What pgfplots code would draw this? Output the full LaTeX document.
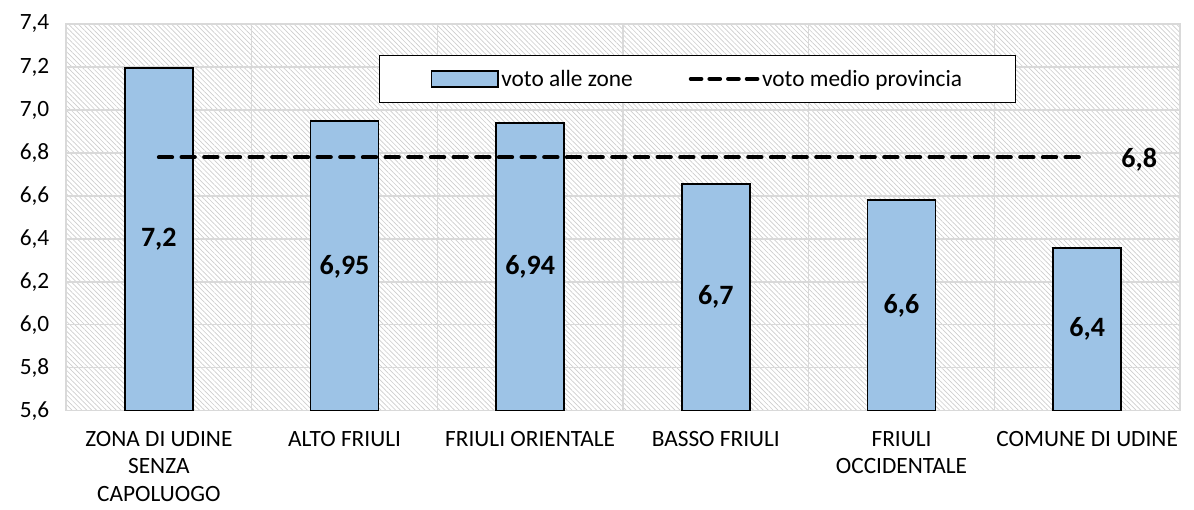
\documentclass[border=0pt]{standalone}
\usepackage{fontspec}
\setmainfont{Carlito}
\usepackage{pgfplots}
\pgfplotsset{compat=1.18}
\usetikzlibrary{patterns.meta}
\definecolor{barblue}{HTML}{9DC3E6}
\definecolor{gridc}{HTML}{D9D9D9}
\definecolor{hatchc}{HTML}{CDCDCD}
\begin{document}
\begin{tikzpicture}
\begin{axis}[
  scale only axis, width=835.5pt, height=290pt,
  xmin=-0.5, xmax=5.5, ymin=5.6, ymax=7.4,
  ytick={5.6,5.8,6.0,6.2,6.4,6.6,6.8,7.0,7.2,7.4},
  xtick={0,1,2,3,4,5},
  xticklabels={{ZONA DI UDINE\\SENZA\\CAPOLUOGO},{ALTO FRIULI},{FRIULI ORIENTALE},{BASSO FRIULI},{FRIULI\\OCCIDENTALE},{COMUNE DI UDINE}},
  minor xtick={-0.5,0.5,1.5,2.5,3.5,4.5,5.5},
  xminorgrids=true, ymajorgrids=true, xmajorgrids=false,
  major tick length=0pt, minor tick length=0pt,
  grid style={gridc, line width=1.1pt},
  minor grid style={gridc, line width=1.1pt},
  axis line style={gridc, line width=1.1pt},
  axis background/.style={pattern={Lines[angle=-45,distance=2.6pt,line width=0.5pt]}, pattern color=hatchc},
  /pgf/number format/.cd, use comma, fixed, fixed zerofill, precision=1, assume math mode=true,
  /pgfplots/.cd,
  yticklabel style={font=\fontsize{17.5}{21}\selectfont, xshift=-9pt},
  xticklabel style={font=\fontsize{17.5}{20.5}\selectfont, align=center, yshift=-12pt},
  legend style={at={(rel axis cs:0.567,0.858)}, anchor=center, draw=black, line width=0.8pt,
    font=\fontsize{17.5}{21}\selectfont, inner xsep=38pt, inner ysep=9pt,
    /tikz/every even column/.append style={column sep=40pt}},
  legend columns=2,
  legend cell align=left,
]
\addplot[ybar, bar width=51pt, fill=barblue, draw=black, line width=1.1pt,
  legend image code/.code={\draw[fill=barblue, draw=black, line width=1.1pt] (0pt,-6pt) rectangle (50pt,6pt);}]
  coordinates {(0,7.195) (1,6.949) (2,6.940) (3,6.656) (4,6.580) (5,6.358)};
\addlegendentry{voto alle zone}
\addplot[black, line width=3pt, dash pattern=on 10pt off 7pt, line cap=round,
  legend image code/.code={\draw[black, line width=3pt, dash pattern=on 8pt off 6pt, line cap=round] (2pt,0pt) -- (52pt,0pt);}]
  coordinates {(0,6.78) (5,6.78)};
\addlegendentry{voto medio provincia}
\addplot[draw=none, forget plot, nodes near coords, point meta=explicit symbolic,
  nodes near coords style={font=\bfseries\fontsize{21}{25}\selectfont, anchor=center}]
  table[meta=lab] {
x y lab
0 6.40 7,2
1 6.27 6,95
2 6.27 6,94
3 6.13 6,7
4 6.09 6,6
5 5.98 6,4
};
\node[font=\bfseries\fontsize{21}{25}\selectfont] at (axis cs:5.28,6.77) {6,8};
\end{axis}
\pgfresetboundingbox
\path[use as bounding box] ([shift={(-49.5pt,-74.25pt)}]current axis.south west) rectangle ([shift={(10.5pt,18pt)}]current axis.north east);
\end{tikzpicture}
\end{document}
